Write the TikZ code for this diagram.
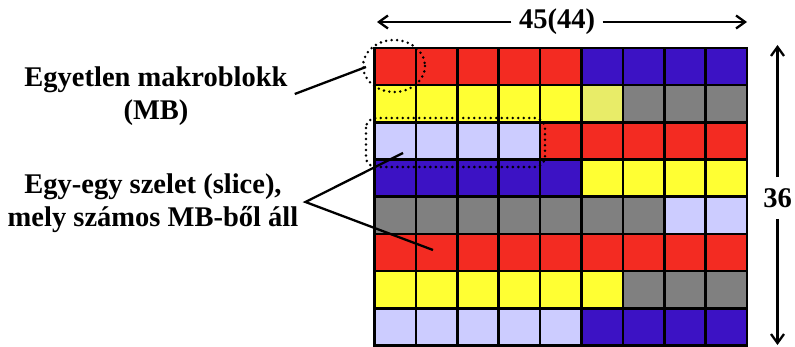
\documentclass[tikz,border=0pt]{standalone}
\usepackage{fontspec}
\setmainfont{Liberation Serif}
\usetikzlibrary{arrows.meta}
\definecolor{cR}{RGB}{243,43,34}
\definecolor{cB}{RGB}{60,18,196}
\definecolor{cY}{RGB}{255,255,51}
\definecolor{cG}{RGB}{128,128,128}
\definecolor{cL}{RGB}{204,204,255}
\definecolor{cW}{RGB}{232,236,104}
\begin{document}
\begin{tikzpicture}[x=1pt,y=-1pt,
  gridline/.style={line width=2.6pt,black},
  mydots/.style={line width=2.8pt,line cap=round,dash pattern=on 0pt off 5.5pt},
  conn/.style={line width=2.3pt},
  arr/.style={line width=2.3pt,-{Straight Barb[length=9pt,width=13pt]}},
  lbl/.style={font=\fontsize{28.5}{32.5}\selectfont\bfseries,align=center,inner sep=7pt},
  dim/.style={font=\fontsize{28.5}{32.5}\selectfont\bfseries,inner xsep=7.5pt,inner ysep=11pt}]
\useasboundingbox (0,0) rectangle (795,347);
\fill[white] (0,0) rectangle (795,347);
% cells
\foreach \row [count=\r from 0] in {
  {cR,cR,cR,cR,cR,cB,cB,cB,cB},
  {cY,cY,cY,cY,cY,cW,cG,cG,cG},
  {cL,cL,cL,cL,cR,cR,cR,cR,cR},
  {cB,cB,cB,cB,cB,cY,cY,cY,cY},
  {cG,cG,cG,cG,cG,cG,cG,cL,cL},
  {cR,cR,cR,cR,cR,cR,cR,cR,cR},
  {cY,cY,cY,cY,cY,cY,cG,cG,cG},
  {cL,cL,cL,cL,cL,cB,cB,cB,cB}} {
  \foreach \c [count=\k from 0] in \row {
    \fill[\c] (374.5+\k*41.4,48+\r*37.2) rectangle ++(41.4,37.2);
  }
}
% grid lines
\foreach \k in {0,...,9} \draw[gridline] (374.5+\k*41.4,48) -- ++(0,297.6);
\foreach \r in {0,...,8} \draw[gridline] (374.5,48+\r*37.2) -- ++(372.6,0);
\draw[gridline,line join=miter] (374.5,48) rectangle (747.1,345.6);
% dotted markings
\draw[mydots] (394,66) ellipse [x radius=31, y radius=26];
\draw[mydots,rounded corners=10] (366,118) rectangle (545,167);
% labels
\node[lbl] (mb) at (156,96) {Egyetlen makroblokk\\(MB)};
\node[lbl] (sl) at (153,203) {Egy-egy szelet (slice),\\mely számos MB-ből áll};
\coordinate (mbtip) at (366,67);
\coordinate (sltipA) at (403,153);
\coordinate (sltipB) at (433,250);
\draw[conn] ([yshift=2pt]mb.east) -- (mbtip);
\draw[conn] (sltipA) -- ([yshift=1pt]sl.east) -- (sltipB);
% dimensions
\node[dim] (w) at (557,22) {45(44)};
\coordinate (wl) at (377,22);
\coordinate (wr) at (747,22);
\draw[arr] (w.west) -- (wl);
\draw[arr] (w.east) -- (wr);
\node[dim] (h) at (777.5,198) {36};
\coordinate (ht) at (777.5,45);
\coordinate (hb) at (777.5,345);
\draw[arr] (h.north) -- (ht);
\draw[arr] (h.south) -- (hb);
\end{tikzpicture}
\end{document}
